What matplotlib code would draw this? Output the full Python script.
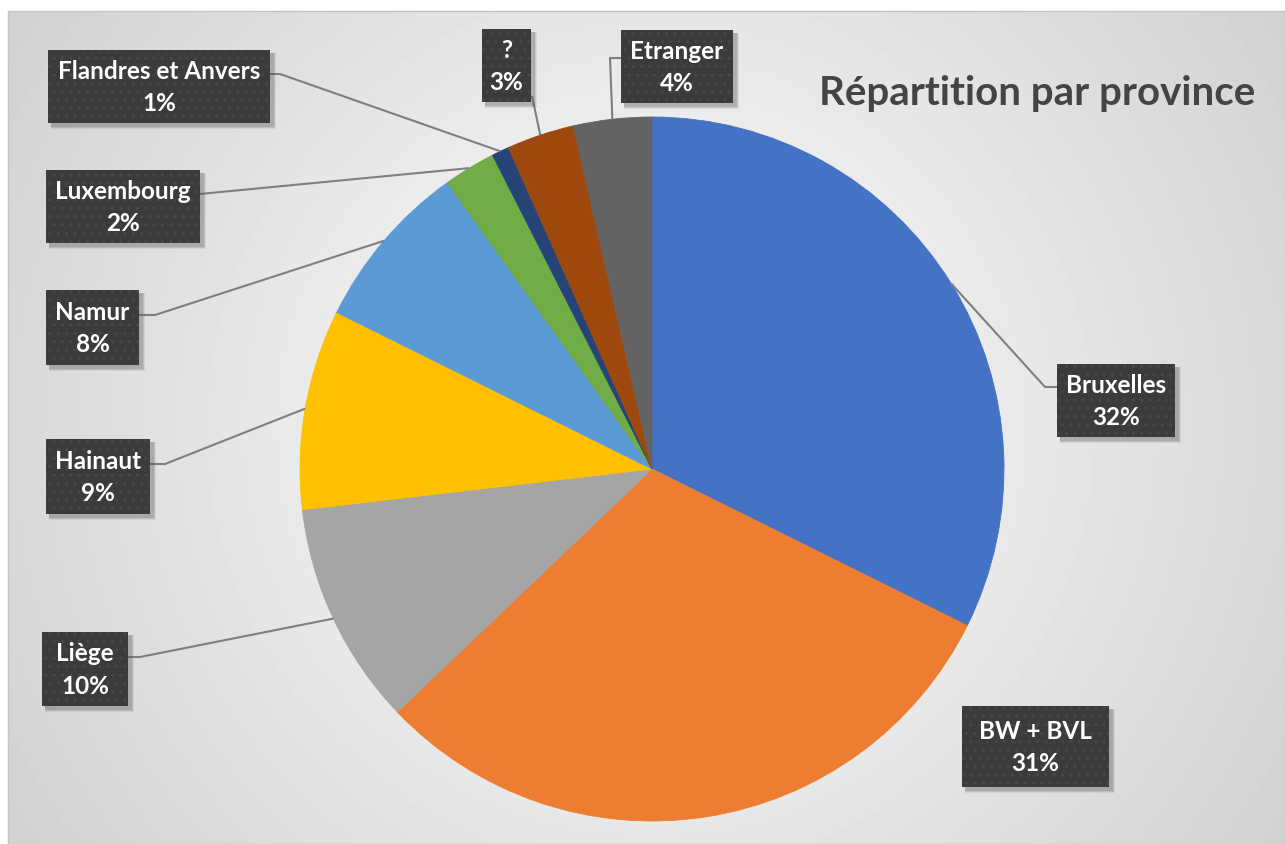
import numpy as np
import matplotlib
matplotlib.use('Agg')
import matplotlib.pyplot as plt
from matplotlib.patches import Rectangle

# Données (parts estimées sur l'image)
provinces = ['Bruxelles', 'BW + BVL', 'Liège', 'Hainaut', 'Namur',
             'Luxembourg', 'Flandres et Anvers', '?', 'Etranger']
valeurs = [32.4, 30.6, 10.3, 9.2, 7.8, 2.4, 0.8, 3.1, 3.6]
couleurs = ['#4472C4', '#ED7D31', '#A5A5A5', '#FFC000', '#5B9BD5',
            '#70AD47', '#264478', '#9E480E', '#636363']
titre = 'Répartition par province'

W, H = 1285, 845

# position des étiquettes (pixels, origine en haut à gauche): x0, y0, largeur, hauteur
boites = [
    (1057, 365, 118, 73),
    (962, 707, 147, 81),
    (42, 633, 86, 74),
    (46, 440, 104, 75),
    (46, 291, 93, 75),
    (46, 171, 154, 73),
    (48, 51, 222, 73),
    (482, 30, 49, 73),
    (621, 31, 112, 73),
]
# point d'attache de la ligne sur la boite et coude (None = pas de ligne)
attaches = [
    ((1057, 388), (1045, 388)),
    None,
    ((128, 658), (140, 658)),
    ((150, 465), (165, 465)),
    ((139, 316), (155, 316)),
    ((200, 195), (210, 194)),
    ((270, 75), (280, 75)),
    ((532, 97), (532, 97)),
    ((621, 59), (610, 59)),
]


def py(y):
    return H - y


fig = plt.figure(figsize=(W / 100, H / 100), dpi=100)
ax = fig.add_axes([0, 0, 1, 1])

# fond en dégradé radial
xx, yy = np.meshgrid(np.arange(8, W), np.arange(12, H))
d = np.sqrt((xx - 650) ** 2 + (yy - 430) ** 2) / 800.0
fond = 1.0 - 0.19 * np.clip(d, 0, 1.2)
ax.imshow(fond, cmap='gray', vmin=0, vmax=1, extent=(8, W, py(H), py(12)),
          origin='upper', zorder=0, aspect='auto')
ax.add_patch(Rectangle((8, 0), W - 8, H - 12, fill=False, edgecolor='#c4c4c4',
                       lw=1, zorder=1))

centre = (652, py(470))
rayon = 352
wedges, _ = ax.pie(valeurs, colors=couleurs, startangle=90, counterclock=False,
                   center=centre, radius=rayon, frame=True)
for w, c in zip(wedges, couleurs):
    w.set_zorder(2)
    w.set_edgecolor(c)
    w.set_linewidth(0.6)

total = sum(valeurs)
plt.rcParams['hatch.linewidth'] = 1.0

for i, w in enumerate(wedges):
    x0, y0, bw, bh = boites[i]
    # ombre
    for k, a in [(6, 0.10), (4, 0.15), (2, 0.2)]:
        ax.add_patch(Rectangle((x0 + 3, py(y0 + bh + 3) - k / 2), bw + k / 2, bh + k / 2,
                               facecolor='#555555', edgecolor='none', alpha=a, zorder=4))
    ax.add_patch(Rectangle((x0, py(y0 + bh)), bw, bh, facecolor='#3b3b3b',
                           edgecolor='#474747', hatch='..', lw=0, zorder=5))
    pct = round(valeurs[i] / total * 100)
    ax.text(x0 + bw / 2, py(y0 + bh / 2), f'{provinces[i]}\n{pct}%', ha='center',
            va='center', color='white', fontsize=17.5, fontweight='bold',
            family='Lato', linespacing=1.5, zorder=6)

    if attaches[i] is not None:
        ang = np.deg2rad((w.theta1 + w.theta2) / 2)
        px = centre[0] + rayon * np.cos(ang)
        pyy = centre[1] + rayon * np.sin(ang)
        (ax1, ay1), (ax2, ay2) = attaches[i]
        ax.plot([ax1, ax2, px], [py(ay1), py(ay2), pyy], color='#7f7f7f', lw=1.5,
                zorder=3, solid_capstyle='butt')

ax.text(1037, py(93), titre, ha='center', va='center', fontsize=29,
        fontweight='bold', color='#444444', family='Lato', zorder=6)

ax.set_xlim(0, W)
ax.set_ylim(0, H)
ax.set_aspect('auto')
ax.axis('off')

plt.savefig('out.png', dpi=100)
